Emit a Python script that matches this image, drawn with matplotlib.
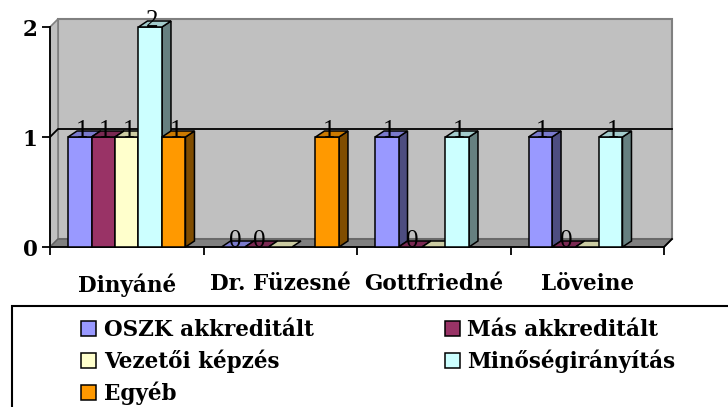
import matplotlib
matplotlib.use("Agg")
import matplotlib.pyplot as plt
from matplotlib.patches import Polygon, Rectangle, Patch
from matplotlib.colors import to_rgb

# ---------------- data ----------------
categories = ["Dinyáné", "Dr. Füzesné", "Gottfriedné", "Löveine"]
series_names = ["OSZK akkreditált", "Más akkreditált", "Vezetői képzés",
                "Minőségirányítás", "Egyéb"]
oszk = [1, 0, 1, 1]
mas = [1, 0, 0, 0]
vezetoi = [1, 0, 0, 0]
minoseg = [2, None, 1, 1]
egyeb = [1, 1, None, None]
oszk_labels = ["1", "0", "1", "1"]
mas_labels = ["1", "0", "0", "0"]
vezetoi_labels = ["1", "", "", ""]
minoseg_labels = ["2", "", "1", "1"]
egyeb_labels = ["1", "1", "", ""]
y_ticks = [0, 1, 2]
colors = ["#9999FF", "#993366", "#FFFFCC", "#CCFFFF", "#FF9900"]

series = [oszk, mas, vezetoi, minoseg, egyeb]
labels = [oszk_labels, mas_labels, vezetoi_labels, minoseg_labels, egyeb_labels]

# ---------------- geometry ----------------
W, H = 728, 407
fig = plt.figure(figsize=(W / 100, H / 100), dpi=100)
ax_l, ax_r, ax_t, ax_b = 50, 664, 27, 247
ax = fig.add_axes([ax_l / W, 1 - ax_b / H, (ax_r - ax_l) / W, (ax_b - ax_t) / H])
ax.set_xlim(-0.5, len(categories) - 0.5)
ax.set_ylim(0, 2)
ax.patch.set_visible(False)

px_x = len(categories) / (ax_r - ax_l)
px_y = 2 / (ax_b - ax_t)
wdx, wdy = 8 * px_x, 8 * px_y     # wall depth
bdx, bdy = 9 * px_x, 6 * px_y     # bar depth

x0a, x1a = -0.5, len(categories) - 0.5

# walls and floor
ax.add_patch(Rectangle((x0a + wdx, wdy), x1a - x0a, 2, fc="#C0C0C0", ec="#808080",
                       lw=1.5, zorder=0.5, clip_on=False))
ax.add_patch(Polygon([(x0a, 0), (x0a, 2), (x0a + wdx, 2 + wdy), (x0a + wdx, wdy)],
                     closed=True, fc="#C0C0C0", ec="#808080", lw=1.2, zorder=0.6, clip_on=False))
ax.add_patch(Polygon([(x0a, 0), (x1a, 0), (x1a + wdx, wdy), (x0a + wdx, wdy)],
                     closed=True, fc="#808080", ec="#606060", lw=1.0, zorder=0.7, clip_on=False))
ax.plot([x1a, x1a + wdx], [0, wdy], color="black", lw=1.3, zorder=0.8, clip_on=False)
# gridline at 1
ax.plot([x0a, x0a + wdx, x1a + wdx], [1, 1 + wdy, 1 + wdy], color="black", lw=1.3,
        zorder=0.8, clip_on=False)

# bars
bw = 0.153
def shade(c, f):
    r, g, b = to_rgb(c)
    return (r * f, g * f, b * f)

z = 3.0
for i in range(len(categories)):
    for j, vals in enumerate(series):
        h = vals[i]
        if h is None:
            continue
        xc = i + (j - 2) * bw
        xa, xb = xc - bw / 2, xc + bw / 2
        c = colors[j]
        if h > 0:
            ax.add_patch(Polygon([(xb, 0), (xb + bdx, bdy), (xb + bdx, h + bdy), (xb, h)],
                                 closed=True, fc=shade(c, 0.5), ec="black", lw=1.1,
                                 zorder=z, clip_on=False))
            ax.add_patch(Rectangle((xa, 0), bw, h, fc=c, ec="black", lw=1.1,
                                   zorder=z + 0.001, clip_on=False))
        ax.add_patch(Polygon([(xa, h), (xb, h), (xb + bdx, h + bdy), (xa + bdx, h + bdy)],
                             closed=True, fc=shade(c, 0.8), ec="black", lw=1.1,
                             zorder=z + 0.002, clip_on=False))
        z += 0.01
        lab = labels[j][i]
        if lab:
            ax.text(xc + 2 * px_x, h, lab, ha="center", va="baseline",
                    family="Liberation Serif", fontsize=18, zorder=20, clip_on=False)

# axes lines and ticks
for s in ["top", "right"]:
    ax.spines[s].set_visible(False)
for s in ["left", "bottom"]:
    ax.spines[s].set_linewidth(1.3)
    ax.spines[s].set_zorder(2)
ax.set_yticks(y_ticks)
ax.set_yticklabels([str(t) for t in y_ticks], family="DejaVu Serif",
                   fontweight="bold", fontsize=15.5)
ax.tick_params(axis="y", direction="out", length=6, width=1.3, pad=3)
ax.set_xticks([k - 0.5 for k in range(len(categories) + 1)])
ax.set_xticklabels([])
ax.tick_params(axis="x", which="major", direction="out", length=6, width=1.3)
ax.set_xticks(range(len(categories)), minor=True)
ax.set_xticklabels(categories, minor=True, family="DejaVu Serif",
                   fontweight="bold", fontsize=15.5)
ax.tick_params(axis="x", which="minor", length=0, pad=19)

# legend
order = [0, 2, 4, 1, 3]
handles = [Patch(fc=colors[k], ec="black", lw=1.1) for k in order]
fig.legend(handles, [series_names[k] for k in order], ncol=2, loc="upper left",
           bbox_to_anchor=(66 / W, 1 - 304 / H), frameon=False,
           prop=dict(family="DejaVu Serif", weight="bold", size=15.5),
           handlelength=0.7, handleheight=0.7, handletextpad=0.35,
           columnspacing=6.1, labelspacing=0.4, borderpad=0.2)
fig.add_artist(Rectangle((12 / W, -0.1), 1.0, 1 - 306 / H + 0.1, transform=fig.transFigure,
                         fill=False, ec="black", lw=1.5, clip_on=False))

fig.savefig("out.png", dpi=100)
